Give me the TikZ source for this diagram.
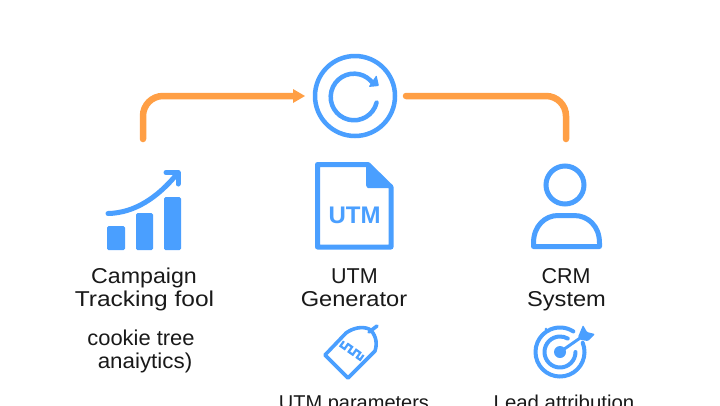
\documentclass[tikz,border=0pt]{standalone}
\usepackage{fontspec}
\usepackage{graphicx}
\usetikzlibrary{calc}
\setmainfont{Liberation Sans}
\definecolor{iconblue}{HTML}{4A9FFF}
\definecolor{flow}{HTML}{FF9F45}
\newcommand{\wide}[2]{\scalebox{#1}[1]{#2}}
\tikzset{
  lbl/.style={font=\fontsize{21.5}{23}\selectfont,align=center,text=black!90,inner sep=0pt,anchor=base},
  icon/.style={draw=iconblue,line width=4.5pt,line join=round,line cap=round},
  conn/.style={draw=flow,line width=6.5pt,line cap=round,rounded corners=20pt},
}
\begin{document}
\begin{tikzpicture}[x=1pt,y=-1pt]
\useasboundingbox (0,0) rectangle (720,405);
\clip (0,0) rectangle (720,405);
\fill[white] (0,0) rectangle (720,405);
% loop icon
\node[circle,draw=iconblue,line width=4.5pt,minimum size=80pt,inner sep=0pt] (loop) at (355,96) {};
\draw[icon] (376.6,102.6) arc[start angle=14,end angle=325,radius=23.3];
\fill[iconblue,rounded corners=1pt] (376.5,75) -- (379,86) -- (368.5,87) -- cycle;
% connectors
\coordinate (a) at (143,139);
\coordinate (b) at (566,139);
\coordinate (aa) at (143,96);
\coordinate (bb) at (566,96);
\draw[conn] (a) -- (aa) -- (296,96);
\fill[flow] (293,89) -- (305,96) -- (293,103) -- cycle;
\draw[conn] (406,96) -- (bb) -- (b);
% chart
\foreach \l/\t/\r in {107/226/125,136/213/153,164/197/181}
  \fill[iconblue,rounded corners=1.5pt] (\l,\t) rectangle (\r,250);
\draw[icon,line width=5pt] (108,213.5) .. controls (135,213) and (158,197) .. (177,174);
\draw[icon,line width=5pt] (166,172.5) -- (178,172.5) -- (178,184);
% document
\draw[icon,line width=5pt] (317.5,164.5) -- (368,164.5) -- (391,187) -- (391,247) -- (317.5,247) -- cycle;
\fill[iconblue] (366,163) -- (392,188) -- (368,188) [rounded corners=1pt] -- (366,186) -- cycle;
\node[font=\fontsize{24}{24}\selectfont\bfseries,text=iconblue,inner sep=0pt,anchor=base] (utmmark) at (354.5,223) {UTM};
% person
\node[circle,draw=iconblue,line width=5pt,minimum size=38pt,inner sep=0pt] (head) at (565,185) {};
\draw[icon,line width=5pt] (533.5,246.5) -- (533.5,243) .. controls (533.5,226) and (545,215.5) .. (558,215.5) -- (574,215.5) .. controls (588,215.5) and (599.5,226) .. (599.5,243) -- (599.5,246.5) -- cycle;
% tag
\draw[icon,line width=3.6pt] (348,378) -- (325,355) -- (346,333) .. controls (353,328) and (362,326) .. (369,329) .. controls (375,333) and (378,342) .. (375,351) -- cycle;
\draw[icon,line width=3.6pt] (369,332) -- (377,326);
\begin{scope}[shift={(352,350.5)},rotate=-35]
\draw[icon,line width=2.2pt,line cap=butt,line join=miter] (-12,-3) -- (-12,3) -- (-7,3) -- (-7,-3) -- (-2,-3) -- (-2,3) -- (3,3) -- (3,-3) -- (8,-3) -- (8,3) -- (12,3) -- (12,-3);
\end{scope}
% target
\draw[icon,line width=4pt] ($(560,352)+(-22:24.5)$) arc[start angle=-22,end angle=303,radius=24.5];
\draw[icon,line width=4pt] ($(560,352)+(0:15.5)$) arc[start angle=0,end angle=300,radius=15.5];
\fill[iconblue] (560,352) circle[radius=6];
\fill[iconblue] (546,329) circle[radius=1.5];
\draw[icon,line width=3pt] (560,352) -- (583,336);
\fill[iconblue,rounded corners=1pt] (578,337) -- (583,325) -- (587,332) -- (595,334) -- (588,341) -- (581,340) -- cycle;
% labels
\node[lbl] (t1) at (144,283) {\wide{1.08}{Campaign}};
\node[lbl] (t1b) at (144.5,306) {\wide{1.14}{Tracking fool}};
\node[lbl] (t2) at (141,345) {\wide{1.02}{cookie tree}};
\node[lbl] (t2b) at (145,368) {\wide{1.04}{anaiytics)}};
\node[lbl] (t3) at (354.5,283) {UTM};
\node[lbl] (t3b) at (354,306) {\wide{1.1}{Generator}};
\node[lbl] (t4) at (566,283) {CRM};
\node[lbl] (t4b) at (566.5,306) {\wide{1.1}{System}};
\node[lbl,font=\fontsize{20}{23}\selectfont] (t5) at (354,409) {UTM parameters};
\node[lbl,font=\fontsize{20}{23}\selectfont] (t6) at (564,409) {\wide{1.02}{Lead attribution}};
\end{tikzpicture}
\end{document}
